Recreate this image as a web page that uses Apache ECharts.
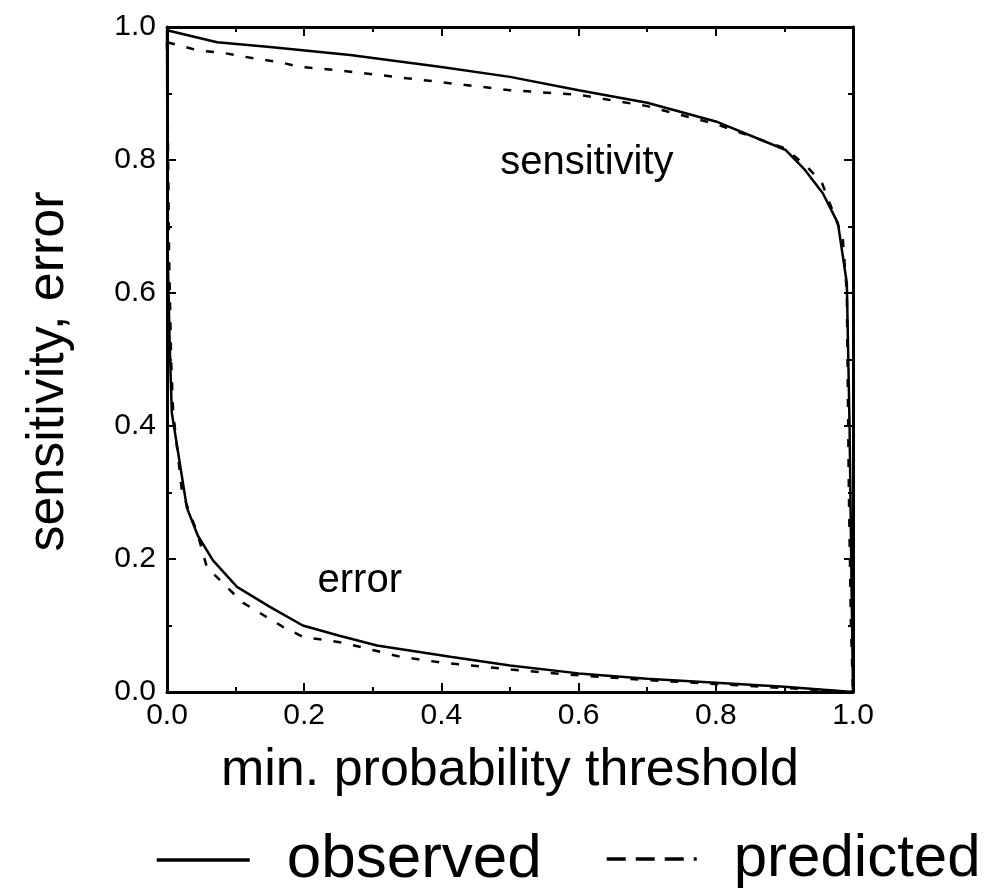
<!DOCTYPE html>
<html>
<head>
<meta charset="utf-8">
<script src="https://cdn.jsdelivr.net/npm/echarts@6/dist/echarts.min.js"></script>
<style>
html,body{margin:0;padding:0;background:#fff;}
#chart{width:987px;height:892px;}
</style>
</head>
<body>
<div id="chart"></div>
<script>
// ---- data ----
const obsSensX = [0, 0.073, 0.15, 0.267, 0.4, 0.5, 0.6, 0.7, 0.8, 0.902, 0.93, 0.956, 0.978, 0.991, 0.995, 0.998, 1.0];
const obsSensY = [0.995, 0.977, 0.97, 0.958, 0.94, 0.925, 0.905, 0.886, 0.858, 0.815, 0.785, 0.75, 0.705, 0.615, 0.4, 0.15, 0.0];

const predSensX = [0, 0.016, 0.044, 0.082, 0.131, 0.165, 0.194, 0.248, 0.4, 0.5, 0.6, 0.7, 0.8, 0.9, 0.933, 0.955, 0.985, 0.991, 0.994, 0.997, 1.0];
const predSensY = [0.977, 0.973, 0.965, 0.961, 0.952, 0.947, 0.94, 0.935, 0.917, 0.905, 0.898, 0.881, 0.854, 0.818, 0.79, 0.765, 0.684, 0.6, 0.3, 0.1, 0.0];

const obsErrX = [0, 0.001, 0.004, 0.007, 0.029, 0.045, 0.067, 0.102, 0.15, 0.198, 0.25, 0.306, 0.413, 0.5, 0.6, 0.7, 0.8, 0.9, 1.0];
const obsErrY = [0.995, 0.66, 0.52, 0.42, 0.277, 0.235, 0.198, 0.158, 0.128, 0.1, 0.085, 0.07, 0.053, 0.04, 0.028, 0.02, 0.014, 0.008, 0.0];

const predErrX = [0, 0.003, 0.006, 0.009, 0.015, 0.022, 0.044, 0.058, 0.087, 0.111, 0.169, 0.198, 0.257, 0.34, 0.402, 0.5, 0.6, 0.7, 0.8, 0.9, 1.0];
const predErrY = [0.977, 0.66, 0.5, 0.42, 0.364, 0.30, 0.24, 0.188, 0.158, 0.134, 0.098, 0.083, 0.074, 0.053, 0.044, 0.034, 0.025, 0.018, 0.012, 0.006, 0.0];

const annoX = [0.612, 0.281];
const annoY = [0.795, 0.167];
const annoText = ['sensitivity', 'error'];

const xTitle = 'min. probability threshold';
const yTitle = 'sensitivity, error';
const legendNames = ['observed', 'predicted'];

// ---- build ----
const pairs = (xs, ys) => xs.map((x, i) => [x, ys[i]]);
const FONT = '"Liberation Sans", Arial, sans-serif';

function axisCommon(extra) {
  return Object.assign({
    type: 'value', min: 0, max: 1, interval: 0.2,
    splitLine: {show: false},
    axisLine: {show: true, onZero: false, lineStyle: {color: '#000', width: 3}},
    axisTick: {show: true, inside: true, length: 9, lineStyle: {color: '#000', width: 2}},
    minorTick: {show: true, splitNumber: 2, length: 5, lineStyle: {color: '#000', width: 2}},
    minorSplitLine: {show: false}
  }, extra);
}

const solid = {color: '#000', width: 2.5, type: 'solid'};
const dashed = {color: '#000', width: 2.5, type: [8, 12]};

const lineSeries = (name, data, ls) => ({
  name, type: 'line', data, symbol: 'none', showSymbol: false,
  lineStyle: ls, itemStyle: {color: '#000'}, silent: true, animation: false, z: 3
});

const option = {
  animation: false,
  backgroundColor: '#fff',
  grid: {left: 167, right: 134, top: 27, bottom: 200, containLabel: false},
  xAxis: [
    axisCommon({
      position: 'bottom',
      name: xTitle, nameLocation: 'middle', nameGap: 53,
      nameTextStyle: {fontFamily: FONT, fontSize: 52, color: '#000'},
      axisLabel: {margin: 9, fontFamily: FONT, fontSize: 30, color: '#000', formatter: v => v.toFixed(1)}
    }),
    axisCommon({position: 'top', axisLabel: {show: false}})
  ],
  yAxis: [
    axisCommon({
      position: 'left',
      name: yTitle, nameLocation: 'middle', nameGap: 92,
      nameTextStyle: {fontFamily: FONT, fontSize: 52, color: '#000', padding: [0, 24, 0, 0]},
      axisLabel: {margin: 11, fontFamily: FONT, fontSize: 30, color: '#000', formatter: v => v.toFixed(1)}
    }),
    axisCommon({position: 'right', axisLabel: {show: false}})
  ],
  legend: [
    {
      data: [legendNames[0]], left: 155, top: 829, padding: 0,
      itemWidth: 93, itemHeight: 30, selectedMode: false,
      itemStyle: {opacity: 0},
      lineStyle: {width: 3.5, type: 'solid', color: '#000'},
      textStyle: {fontFamily: FONT, fontSize: 62, color: '#000', padding: [0, 0, 0, 32]}
    },
    {
      data: [legendNames[1]], left: 605, top: 829, padding: 0,
      itemWidth: 90, itemHeight: 30, selectedMode: false,
      itemStyle: {opacity: 0},
      lineStyle: {width: 3.5, type: [19, 10], color: '#000'},
      textStyle: {fontFamily: FONT, fontSize: 60, color: '#000', padding: [0, 0, 0, 32]}
    }
  ],
  series: [
    lineSeries(legendNames[0], pairs(obsSensX, obsSensY), solid),
    lineSeries(legendNames[0], pairs(obsErrX, obsErrY), solid),
    lineSeries(legendNames[1], pairs(predSensX, predSensY), dashed),
    lineSeries(legendNames[1], pairs(predErrX, predErrY), dashed),
    {
      type: 'scatter', silent: true, symbolSize: 0, z: 4,
      itemStyle: {opacity: 1, color: '#000'},
      data: annoX.map((x, i) => ({value: [x, annoY[i]], name: annoText[i]})),
      label: {show: true, position: 'inside', formatter: p => p.name, opacity: 1,
        fontFamily: FONT, fontSize: 40, color: '#000', textBorderWidth: 0}
    }
  ]
};

const chart = echarts.init(document.getElementById('chart'), null, {renderer: 'canvas'});
chart.setOption(option);
</script>
</body>
</html>
